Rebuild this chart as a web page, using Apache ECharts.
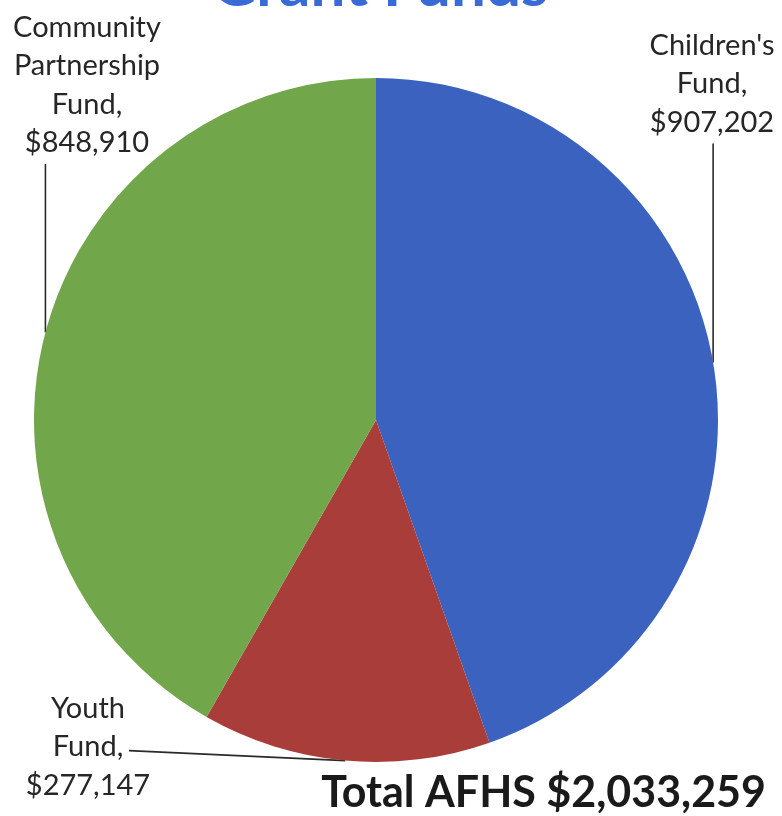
<!DOCTYPE html>
<html>
<head>
<meta charset="utf-8">
<script src="https://cdn.jsdelivr.net/npm/echarts@6/dist/echarts.min.js"></script>
<style>
html,body{margin:0;padding:0;background:#fff;}
#chart{width:782px;height:816px;}
</style>
</head>
<body>
<div id="chart"></div>
<script>
const categories = ["Children's Fund", "Youth Fund", "Community Partnership Fund"];
const values = [907202, 277147, 848910];
const colors = ['#3A62BE', '#A83D3A', '#72A64A'];
const titleText = 'Grant Funds';
const totalPrefix = 'Total AFHS ';

const total = values.reduce((a, b) => a + b, 0);
const fmt = v => '$' + v.toLocaleString('en-US');

// label placement (centre x, top y) per slice
const labelPos = [
  { x: 712, y: 26, lineEnd: 'bottom' },
  { x: 88, y: 689, lineEnd: 'side' },
  { x: 87, y: 8, lineEnd: 'bottom' }
];
const LH = 38.5;

const chart = echarts.init(document.getElementById('chart'), null, { renderer: 'canvas' });
chart.setOption({
  backgroundColor: '#fff',
  animation: false,
  graphic: [
    {
      type: 'text',
      x: 380,
      y: 17,
      style: {
        text: titleText,
        font: 'bold 62px Lato',
        fill: '#3A6AD6',
        textAlign: 'center',
        textVerticalAlign: 'bottom'
      }
    },
    {
      type: 'text',
      right: 16,
      top: 772,
      style: {
        text: totalPrefix + fmt(total),
        font: 'bold 43px Lato',
        fill: '#1a1a1a'
      }
    }
  ],
  series: [{
    type: 'pie',
    center: [376, 420],
    radius: 342,
    startAngle: 90,
    clockwise: true,
    avoidLabelOverlap: false,
    data: categories.map((n, i) => ({ name: n, value: values[i], itemStyle: { color: colors[i] } })),
    label: {
      show: true,
      position: 'outside',
      formatter: p => p.name.split(' ').join('\n') + ',\n' + fmt(p.value),
      fontFamily: 'Lato',
      fontSize: 29,
      lineHeight: LH,
      color: '#262626',
      align: 'center'
    },
    labelLine: {
      show: true,
      length: 10,
      length2: 10,
      lineStyle: { color: '#2a2a2a', width: 1.6 }
    },
    labelLayout: function (params) {
      const p = labelPos[params.dataIndex];
      const a = params.labelLinePoints ? params.labelLinePoints[0] : [0, 0];
      const nLines = params.text.split('\n').length;
      let end;
      if (p.lineEnd === 'bottom') {
        end = [a[0], p.y + nLines * LH + 2];
      } else {
        end = [p.x + 41, p.y + 1.6 * LH];
      }
      return {
        x: p.x,
        y: p.y,
        align: 'center',
        verticalAlign: 'top',
        labelLinePoints: [a, end, end]
      };
    }
  }]
});
</script>
</body>
</html>
